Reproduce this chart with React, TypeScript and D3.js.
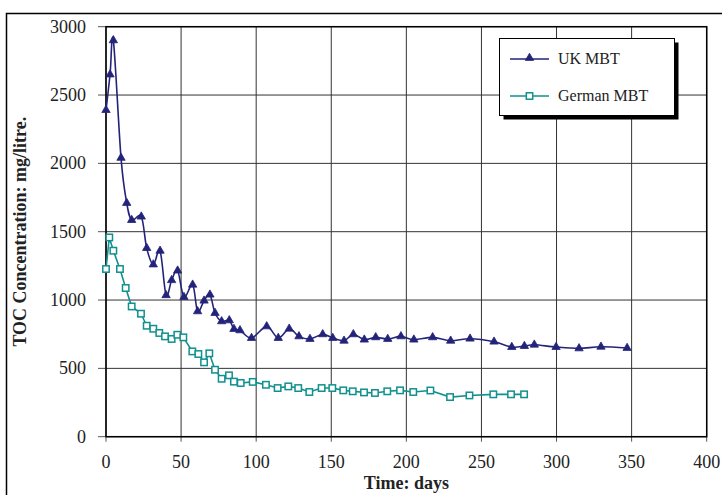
import * as React from 'react';
import * as d3 from 'd3';

// UK MBT leachate
const ukDays = [0, 2.7, 4.9, 10, 13.8, 17.1, 23.5, 27.1, 31.5, 36, 40, 43.7, 47.7, 51.9, 57.7, 61, 65.3, 69.2, 72.6, 77, 82.1, 85.2, 89.2, 96.9, 107, 114.7, 122, 128.5, 135.8, 144.3, 151, 158.5, 164.7, 172, 179.6, 187.6, 196.4, 205, 217.5, 229.5, 242.4, 258.4, 270.2, 278.6, 285.2, 299.7, 315, 329.6, 347];
const ukToc = [2390, 2650, 2900, 2040, 1710, 1585, 1610, 1380, 1260, 1360, 1035, 1145, 1215, 1022, 1112, 917, 995, 1039, 905, 844, 851, 788, 778, 722, 807, 722, 790, 734, 715, 749, 722, 702, 749, 710, 727, 715, 734, 710, 727, 702, 717, 695, 656, 663, 673, 656, 646, 658, 649];

// German MBT leachate
const deDays = [0, 2.2, 4.9, 9.3, 13.1, 17.1, 23.3, 27.1, 31.5, 35.5, 39.3, 43.7, 47.5, 51.5, 57.5, 61.5, 65.3, 68.8, 72.6, 77, 81.9, 85.2, 89.7, 97.7, 106.5, 114.3, 121.4, 128, 135.4, 143.6, 150.7, 158, 164.3, 171.8, 179.1, 187.3, 195.8, 204.6, 216, 229.1, 242, 257.9, 269.7, 278.4];
const deToc = [1227, 1458, 1361, 1227, 1088, 953, 900, 812, 790, 759, 734, 715, 746, 727, 624, 605, 544, 610, 490, 424, 449, 403, 393, 401, 380, 356, 368, 356, 327, 356, 356, 339, 332, 324, 320, 332, 339, 327, 338, 290, 302, 310, 310, 310];

const xTicks = [0, 50, 100, 150, 200, 250, 300, 350, 400];
const yTicks = [0, 500, 1000, 1500, 2000, 2500, 3000];

const seriesNames = ['UK MBT', 'German MBT'];
const xTitle = 'Time: days';
const yTitle = 'TOC Concentration: mg/litre.';

const WIDTH = 722;
const HEIGHT = 495;
const MARGINS = { top: 26.7, left: 106, right: 15.3, bottom: 58.3 };
const FONT = '"Liberation Serif", "Times New Roman", serif';
const NAVY = '#23237a';
const TEAL = '#10908e';

export default function App() {
    const innerW = WIDTH - MARGINS.left - MARGINS.right;
    const innerH = HEIGHT - MARGINS.top - MARGINS.bottom;

    const xScale = d3.scaleLinear().domain([0, 400]).range([MARGINS.left, MARGINS.left + innerW]);
    const yScale = d3.scaleLinear().domain([0, 3000]).range([MARGINS.top + innerH, MARGINS.top]);

    const ukPts: [number, number][] = ukDays.map((d, i) => [xScale(d), yScale(ukToc[i])]);
    const dePts: [number, number][] = deDays.map((d, i) => [xScale(d), yScale(deToc[i])]);

    const ukLine = d3.line().curve(d3.curveCardinal.tension(0))(ukPts);
    const deLine = d3.line()(dePts);

    const tri = d3.symbol().type(d3.symbolTriangle).size(30)();

    const x0 = MARGINS.left;
    const x1 = MARGINS.left + innerW;
    const y0 = MARGINS.top + innerH;
    const y1 = MARGINS.top;

    // legend box
    const lg = { x: 499.5, y: 38.5, w: 175, h: 77 };

    return (
        <svg width={WIDTH} height={HEIGHT} style={{ position: 'absolute', left: 0, top: 0, background: '#fff' }} fontFamily={FONT}>
            <rect x={6.5} y={13.5} width={730} height={500} fill="none" stroke="#000" strokeWidth={1.5} />

            {/* grid */}
            {xTicks.map(t => (
                <line key={'gx' + t} x1={xScale(t)} x2={xScale(t)} y1={y1} y2={y0} stroke="#333" strokeWidth={1} />
            ))}
            {yTicks.map(t => (
                <line key={'gy' + t} x1={x0} x2={x1} y1={yScale(t)} y2={yScale(t)} stroke="#333" strokeWidth={1} />
            ))}

            {/* ticks */}
            {xTicks.map(t => (
                <line key={'tx' + t} x1={xScale(t)} x2={xScale(t)} y1={y0} y2={y0 + 5} stroke="#555" strokeWidth={1} />
            ))}
            {yTicks.map(t => (
                <line key={'ty' + t} x1={x0 - 8} x2={x0} y1={yScale(t)} y2={yScale(t)} stroke="#555" strokeWidth={1} />
            ))}

            <rect x={x0} y={y1} width={innerW} height={innerH} fill="none" stroke="#000" strokeWidth={1.5} />

            {/* tick labels */}
            {xTicks.map(t => (
                <text key={'lx' + t} x={xScale(t)} y={468} textAnchor="middle" fontSize={18} fill="#222">{t}</text>
            ))}
            {yTicks.map(t => (
                <text key={'ly' + t} x={86} y={yScale(t)} dy="0.34em" textAnchor="end" fontSize={18} fill="#222">{t}</text>
            ))}

            <text x={(x0 + x1) / 2} y={489} textAnchor="middle" fontSize={18} fontWeight="bold" fill="#222">{xTitle}</text>
            <text transform={`translate(${26},${(y0 + y1) / 2}) rotate(-90)`} textAnchor="middle" fontSize={18} fontWeight="bold" fill="#222">{yTitle}</text>

            {/* series */}
            <path d={deLine || ''} fill="none" stroke={TEAL} strokeWidth={1.6} />
            {dePts.map((p, i) => (
                <rect key={'dm' + i} x={p[0] - 3.2} y={p[1] - 3.2} width={6.4} height={6.4} fill="#fff" stroke={TEAL} strokeWidth={1.5} />
            ))}
            <path d={ukLine || ''} fill="none" stroke={NAVY} strokeWidth={1.6} />
            {ukPts.map((p, i) => (
                <path key={'um' + i} d={tri || ''} transform={`translate(${p[0]},${p[1]})`} fill={NAVY} stroke={NAVY} strokeWidth={0.8} />
            ))}

            {/* legend */}
            <rect x={lg.x + 4} y={lg.y + 4} width={lg.w} height={lg.h} fill="#000" />
            <rect x={lg.x} y={lg.y} width={lg.w} height={lg.h} fill="#fff" stroke="#000" strokeWidth={1} />
            <line x1={510} x2={549} y1={59} y2={59} stroke={NAVY} strokeWidth={1.6} />
            <path d={tri || ''} transform="translate(529.5,58)" fill={NAVY} stroke={NAVY} strokeWidth={0.8} />
            <text x={558} y={59} dy="0.34em" fontSize={16} fill="#222">{seriesNames[0]}</text>
            <line x1={510} x2={549} y1={96} y2={96} stroke={TEAL} strokeWidth={1.6} />
            <rect x={526.3} y={92.8} width={6.4} height={6.4} fill="#fff" stroke={TEAL} strokeWidth={1.5} />
            <text x={558} y={96} dy="0.34em" fontSize={16} fill="#222">{seriesNames[1]}</text>
        </svg>
    );
}
